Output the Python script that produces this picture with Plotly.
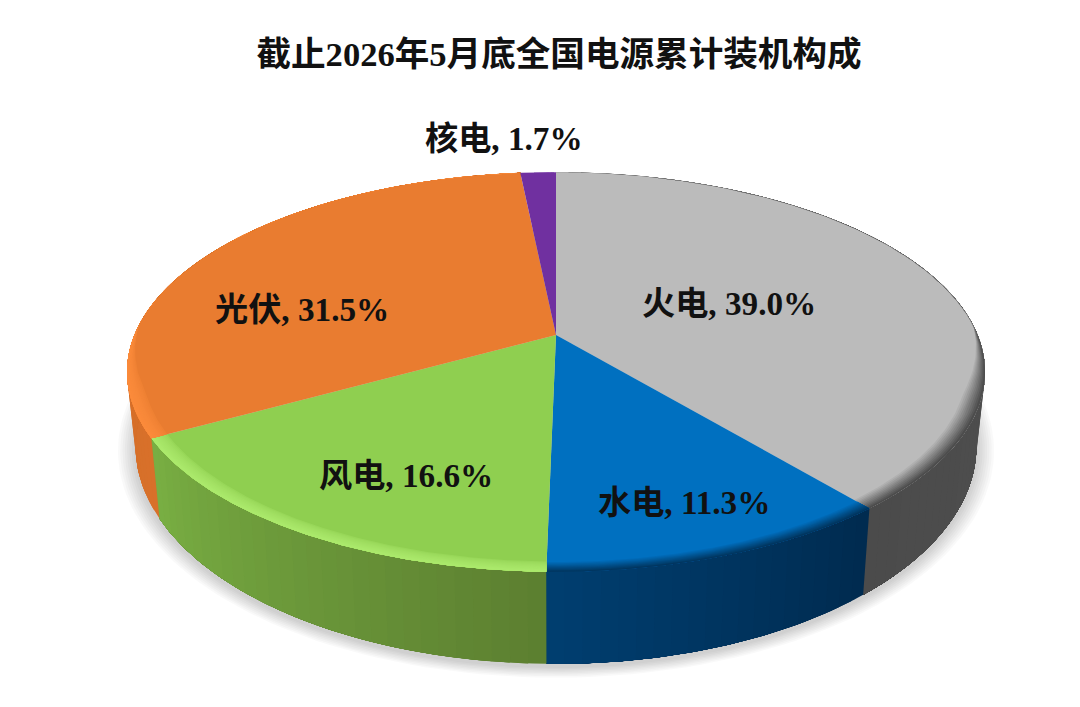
import numpy as np
import plotly.graph_objects as go

# data, clockwise from 12 o'clock
categories = ['火电', '水电', '风电', '光伏', '核电']
shares = [39.0, 11.3, 16.6, 31.5, 1.7]

title = '截止2026年5月底全国电源累计装机构成'

# colours
top_colors = ['#bbbbbb', '#0070c0', '#8fcf50', '#e97c30', '#7030a0']
rim_colors = ['#4d4d4d', '#003660', '#abe96c', '#fb8b3b', '#7030a0']
side_start = ['#555555', '#002b4f', '#5c7f30', '#d8702a', '#4c2070']
side_end = ['#4b4b4b', '#003e70', '#79af43', '#cc6a22', '#4c2070']
bevels = [0.042, 0.034, 0.036, 0.036, 0.03]
rim_ease = [1.0, 1.0, 0.5, 0.5, 1.0]

# where the labels sit in the picture
label_xy = [(729, 303), (684, 502), (406, 475), (302, 309), (504, 138)]

FONT = '"Liberation Serif", "Noto Sans CJK SC", serif'

# perspective of the disc, fitted on the picture
CX, CY = 556, 335
A, B, K = 421.6, 193, 0.185


def project(theta, r=1.0):
    xv = r * np.sin(theta)
    yv = -r * np.cos(theta)
    w = 1 - K * yv
    return CX + A * xv / w, CY + B * yv / w


def lower(theta):
    x, y = project(theta)
    return CX + 0.98 * (x - CX), CY + 1.089 * (y - CY) + 71


def mix(c1, c2, t):
    a = [int(c1[i:i + 2], 16) for i in (1, 3, 5)]
    b = [int(c2[i:i + 2], 16) for i in (1, 3, 5)]
    return 'rgb(%d,%d,%d)' % tuple(round(p + (q - p) * t) for p, q in zip(a, b))


def bevel_amount(theta):
    yv = -np.cos(theta)
    return np.clip((yv + 0.05) / 0.35, 0, 1)


fig = go.Figure()


def poly(xs, ys, color):
    fig.add_trace(go.Scatter(
        x=list(xs), y=list(ys), mode='lines', fill='toself', fillcolor=color,
        line=dict(width=0), hoverinfo='skip', showlegend=False))


# slice limits in radians, the shares add up to 100.1 so the last one is cut
edges = np.minimum(np.concatenate([[0], np.cumsum(shares)]) / 100, 1) * 2 * np.pi

# soft shadow under the disc
t_all = np.linspace(0, 2 * np.pi, 240)
lx, ly = lower(t_all)
for s in np.linspace(1.042, 1.004, 8):
    poly(CX + (lx - CX) * s, 408 + (ly - 408) * s + 3, 'rgba(0,0,0,0.022)')

# side wall: every strip runs on to the end of its slice and the next one
# paints over it, so there are no seams between strips
for i in range(len(shares)):
    n = max(2, int((edges[i + 1] - edges[i]) / np.radians(2)))
    cuts = np.linspace(edges[i], edges[i + 1], n + 1)
    for j in range(n):
        if -np.cos(cuts[j + 1]) < -0.25 and -np.cos(edges[i + 1]) < -0.25:
            continue
        t = np.linspace(cuts[j], edges[i + 1], 80)
        x1, y1 = project(t)
        x2, y2 = lower(t)
        poly(np.r_[x1, x2[::-1]], np.r_[y1, y2[::-1]],
             mix(side_start[i], side_end[i], (j + 0.5) / n))

# top face and bevelled edge, painted from the inside out
for i in range(len(shares)):
    t = np.linspace(edges[i], edges[i + 1], 160)
    x, y = project(t)
    poly(np.r_[CX, x], np.r_[CY, y], top_colors[i])
    steps = 10
    for j in range(steps):
        r1 = 1 - bevels[i] * bevel_amount(t) * (1 - j / steps)
        x1, y1 = project(t, r1)
        x2, y2 = project(t)
        poly(np.r_[x1, x2[::-1]], np.r_[y1, y2[::-1]],
             mix(top_colors[i], rim_colors[i], ((j + 1) / steps) ** rim_ease[i]))

for name, share, (lab_x, lab_y) in zip(categories, shares, label_xy):
    fig.add_annotation(
        x=lab_x, y=lab_y, xref='x', yref='y', showarrow=False,
        text=f'<b>{name}, {share:.1f}%</b>',
        font=dict(family=FONT, size=33.2, color='#111111'))

fig.update_layout(
    title=dict(text=f'<b>{title}</b>', x=559 / 1080, y=1 - 54 / 707,
               xanchor='center', yanchor='middle',
               font=dict(family=FONT, size=34.6, color='#111111')),
    width=1080, height=707, margin=dict(l=0, r=0, t=0, b=0),
    paper_bgcolor='white', plot_bgcolor='white', showlegend=False,
    xaxis=dict(range=[0, 1080], visible=False, fixedrange=True),
    yaxis=dict(range=[707, 0], visible=False, fixedrange=True))

fig.write_html("out.html", config=dict(displayModeBar=False),
               post_script="document.body.style.margin='0';")
